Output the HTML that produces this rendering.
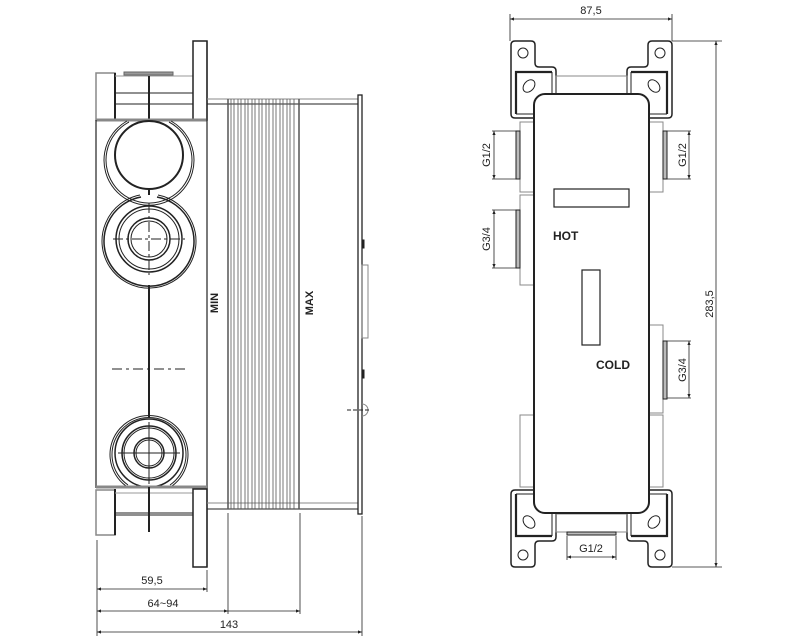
<!DOCTYPE html>
<html><head><meta charset="utf-8"><style>
html,body{margin:0;padding:0;background:#fff}
svg{display:block}
text{font-family:"Liberation Sans",sans-serif;fill:#222}
</style></head><body>
<svg width="787" height="639" viewBox="0 0 787 639" xmlns="http://www.w3.org/2000/svg">
<defs>
<marker id="a" viewBox="0 0 10 10" refX="10" refY="5" markerWidth="5" markerHeight="5" orient="auto-start-reverse"><path d="M0,1 L10,5 L0,9z" fill="#222"/></marker>
</defs>
<g fill="none" stroke="#222" stroke-width="1">
<rect x="96" y="73" width="19" height="47" stroke="#888" stroke-width="1.5"/>
<line x1="115" y1="73" x2="115" y2="121" stroke-width="2"/>
<rect x="124" y="72" width="49" height="3" fill="#999" stroke="#666"/>
<line x1="115" y1="76" x2="193" y2="76" stroke="#999"/>
<line x1="115" y1="93" x2="193" y2="93"/>
<line x1="115" y1="104" x2="193" y2="104"/>
<line x1="149" y1="76" x2="149" y2="120" stroke-width="2"/>
<rect x="193" y="41" width="14" height="79" stroke-width="1.5"/>
<line x1="96" y1="120" x2="207" y2="120" stroke="#888" stroke-width="3"/>
<line x1="96" y1="120" x2="96" y2="488" stroke-width="1.2"/>
<line x1="207" y1="41" x2="207" y2="567" stroke-width="1.2"/>
<circle cx="149" cy="155" r="34" stroke-width="2"/>
<path d="M127,121 A45,45 0 1,0 171,121" stroke-width="1"/>
<path d="M129,122 A43,43 0 1,0 169,122" stroke-width="1"/>
<path d="M140,195 A47,47 0 1,0 158,195" stroke-width="1"/>
<path d="M141,197 A45,45 0 1,0 157,197" stroke-width="1.5"/>
<circle cx="149" cy="239" r="33" stroke-width="1.5"/>
<circle cx="149" cy="239" r="30"/>
<circle cx="149" cy="239" r="21" stroke-width="1.5"/>
<circle cx="149" cy="239" r="18"/>
<line x1="149" y1="190" x2="149" y2="195" stroke-width="2"/>
<line x1="113" y1="239" x2="185" y2="239" stroke-dasharray="10,3,3,3"/>
<line x1="149" y1="203" x2="149" y2="275" stroke-dasharray="10,3,3,3"/>
<line x1="149" y1="285" x2="149" y2="417" stroke-width="2"/>
<line x1="112" y1="369" x2="187" y2="369" stroke-dasharray="10,4,3,4"/>
<path d="M126,486 A39,39 0 1,1 172,486" stroke-width="1"/>
<path d="M128,485 A37,37 0 1,1 170,485" stroke-width="1"/>
<circle cx="149" cy="453" r="34" stroke-width="1.5"/>
<circle cx="149" cy="453" r="27" stroke-width="1.5"/>
<circle cx="149" cy="453" r="25"/>
<circle cx="149" cy="453" r="15" stroke-width="1.5"/>
<circle cx="149" cy="453" r="13"/>
<line x1="118" y1="453" x2="180" y2="453"/>
<line x1="149" y1="422" x2="149" y2="484"/>
<line x1="96" y1="487" x2="207" y2="487" stroke="#888" stroke-width="3"/>
<rect x="96" y="490" width="19" height="45" stroke="#888" stroke-width="1.5"/>
<line x1="115" y1="489" x2="115" y2="535" stroke-width="2"/>
<line x1="115" y1="493" x2="193" y2="493" stroke="#999"/>
<line x1="115" y1="513" x2="193" y2="513"/>
<line x1="115" y1="515" x2="193" y2="515"/>
<line x1="149" y1="487" x2="149" y2="532" stroke-width="2"/>
<rect x="193" y="489" width="14" height="78" stroke-width="1.5"/>
<line x1="207" y1="99" x2="358" y2="99" stroke="#888"/>
<line x1="207" y1="104" x2="358" y2="104"/>
<line x1="207" y1="503" x2="358" y2="503" stroke="#888"/>
<line x1="207" y1="509" x2="358" y2="509"/>
<g stroke="#555" stroke-width="0.8">
<line x1="228" y1="99" x2="228" y2="509" stroke-width="1.5"/>
<line x1="231" y1="99" x2="231" y2="509"/><line x1="234" y1="99" x2="234" y2="509"/>
<line x1="238" y1="99" x2="238" y2="509"/><line x1="241" y1="99" x2="241" y2="509"/>
<line x1="245" y1="99" x2="245" y2="509"/><line x1="248" y1="99" x2="248" y2="509"/>
<line x1="252" y1="99" x2="252" y2="509"/><line x1="255" y1="99" x2="255" y2="509"/>
<line x1="259" y1="99" x2="259" y2="509"/><line x1="262" y1="99" x2="262" y2="509"/>
<line x1="266" y1="99" x2="266" y2="509"/><line x1="269" y1="99" x2="269" y2="509"/>
<line x1="273" y1="99" x2="273" y2="509"/><line x1="276" y1="99" x2="276" y2="509"/>
<line x1="280" y1="99" x2="280" y2="509"/><line x1="283" y1="99" x2="283" y2="509"/>
<line x1="287" y1="99" x2="287" y2="509"/><line x1="290" y1="99" x2="290" y2="509"/>
<line x1="294" y1="99" x2="294" y2="509"/>
<line x1="299" y1="99" x2="299" y2="509" stroke-width="1.5"/>
</g>
<rect x="358" y="95" width="4" height="419" stroke-width="1.3"/>
<rect x="362" y="240" width="2" height="8" fill="#222"/>
<rect x="362" y="265" width="6" height="73" stroke="#888"/>
<rect x="362" y="370" width="2" height="8" fill="#222"/>
<path d="M362,404 A6,6 0 0,1 362,416" stroke="#888"/>
<line x1="347" y1="410" x2="370" y2="410" stroke-dasharray="4,2"/>
<line x1="97" y1="540" x2="97" y2="636" stroke-width="0.8"/>
<line x1="207" y1="570" x2="207" y2="592" stroke-width="0.8"/>
<line x1="228" y1="513" x2="228" y2="614" stroke-width="0.8"/>
<line x1="300" y1="513" x2="300" y2="614" stroke-width="0.8"/>
<line x1="362" y1="516" x2="362" y2="636" stroke-width="0.8"/>
<line x1="97" y1="589" x2="207" y2="589" marker-start="url(#a)" marker-end="url(#a)" stroke-width="0.8"/>
<line x1="97" y1="611" x2="228" y2="611" marker-start="url(#a)" marker-end="url(#a)" stroke-width="0.8"/>
<line x1="228" y1="611" x2="300" y2="611" marker-end="url(#a)" stroke-width="0.8"/>
<line x1="97" y1="632" x2="362" y2="632" marker-start="url(#a)" marker-end="url(#a)" stroke-width="0.8"/>

<g id="br" stroke-width="1.5">
<path d="M511,45 Q511,41 515,41 L531,41 Q535,41 535,45 L535,63 Q535,67 539,67 L552,67 Q556,67 556,71 L556,118 L515,118 Q511,118 511,114 Z"/>
<path d="M516,114 L516,72 L552,72" stroke-width="2.2"/>
<path d="M552,72 L552,114 L516,114" stroke-width="1"/>
<circle cx="523" cy="53" r="5" stroke-width="1"/>
<ellipse cx="529" cy="86" rx="7" ry="5" transform="rotate(-50 529 86)" stroke-width="1"/>
</g>
<use href="#br" transform="translate(1183,0) scale(-1,1)"/>
<use href="#br" transform="translate(0,608) scale(1,-1)"/>
<use href="#br" transform="translate(1183,608) scale(-1,-1)"/>
<rect x="556" y="76" width="71" height="18" stroke="#888"/>
<rect x="556" y="514" width="71" height="18" stroke="#888"/>
<g stroke="#888">
<rect x="520" y="122" width="14" height="70"/>
<rect x="520" y="195" width="14" height="90"/>
<rect x="649" y="122" width="14" height="70"/>
<rect x="649" y="325" width="14" height="88"/>
<rect x="520" y="415" width="14" height="72"/>
<rect x="649" y="415" width="14" height="72"/>
</g>
<rect x="516" y="131" width="4" height="48" fill="#bbb"/>
<rect x="516" y="210" width="4" height="58" fill="#bbb"/>
<rect x="663" y="131" width="4" height="48" fill="#bbb"/>
<rect x="663" y="341" width="4" height="58" fill="#bbb"/>
<rect x="567" y="532" width="49" height="3" fill="#bbb"/>
<rect x="534" y="94" width="115" height="419" rx="11" fill="#fff" stroke-width="2"/>
<rect x="554" y="189" width="75" height="18" stroke-width="1.2"/>
<rect x="582" y="270" width="18" height="75" stroke-width="1.2"/>
<line x1="510" y1="14" x2="510" y2="41" stroke-width="0.8"/>
<line x1="672" y1="14" x2="672" y2="41" stroke-width="0.8"/>
<line x1="510" y1="19" x2="672" y2="19" marker-start="url(#a)" marker-end="url(#a)" stroke-width="0.8"/>
<line x1="672" y1="41" x2="722" y2="41" stroke-width="0.8"/>
<line x1="672" y1="567" x2="722" y2="567" stroke-width="0.8"/>
<line x1="716" y1="41" x2="716" y2="567" marker-start="url(#a)" marker-end="url(#a)" stroke-width="0.8"/>
<g stroke-width="0.8">
<line x1="494" y1="131" x2="494" y2="179" marker-start="url(#a)" marker-end="url(#a)"/>
<line x1="492" y1="131" x2="516" y2="131"/><line x1="492" y1="179" x2="516" y2="179"/>
<line x1="494" y1="210" x2="494" y2="268" marker-start="url(#a)" marker-end="url(#a)"/>
<line x1="492" y1="210" x2="516" y2="210"/><line x1="492" y1="268" x2="516" y2="268"/>
<line x1="689" y1="131" x2="689" y2="179" marker-start="url(#a)" marker-end="url(#a)"/>
<line x1="667" y1="131" x2="691" y2="131"/><line x1="667" y1="179" x2="691" y2="179"/>
<line x1="689" y1="341" x2="689" y2="398" marker-start="url(#a)" marker-end="url(#a)"/>
<line x1="667" y1="341" x2="691" y2="341"/><line x1="667" y1="398" x2="691" y2="398"/>
<line x1="567" y1="557" x2="616" y2="557" marker-start="url(#a)" marker-end="url(#a)"/>
<line x1="567" y1="536" x2="567" y2="560"/><line x1="616" y1="536" x2="616" y2="560"/>
</g>
</g>
<g font-size="11">
<text x="152" y="584" text-anchor="middle">59,5</text>
<text x="163" y="607" text-anchor="middle">64~94</text>
<text x="229" y="628" text-anchor="middle">143</text>
<text x="591" y="14" text-anchor="middle">87,5</text>
<text x="591" y="552" text-anchor="middle">G1/2</text>
<text transform="translate(713,304) rotate(-90)" text-anchor="middle">283,5</text>
<text transform="translate(490,155) rotate(-90)" text-anchor="middle">G1/2</text>
<text transform="translate(490,239) rotate(-90)" text-anchor="middle">G3/4</text>
<text transform="translate(686,155) rotate(-90)" text-anchor="middle">G1/2</text>
<text transform="translate(686,370) rotate(-90)" text-anchor="middle">G3/4</text>
</g>
<g font-size="12" font-weight="bold">
<text x="553" y="240">HOT</text>
<text x="596" y="369">COLD</text>
<text transform="translate(218,303) rotate(-90)" text-anchor="middle" font-size="11">MIN</text>
<text transform="translate(313,303) rotate(-90)" text-anchor="middle" font-size="11">MAX</text>
</g>
</svg>
</body></html>
